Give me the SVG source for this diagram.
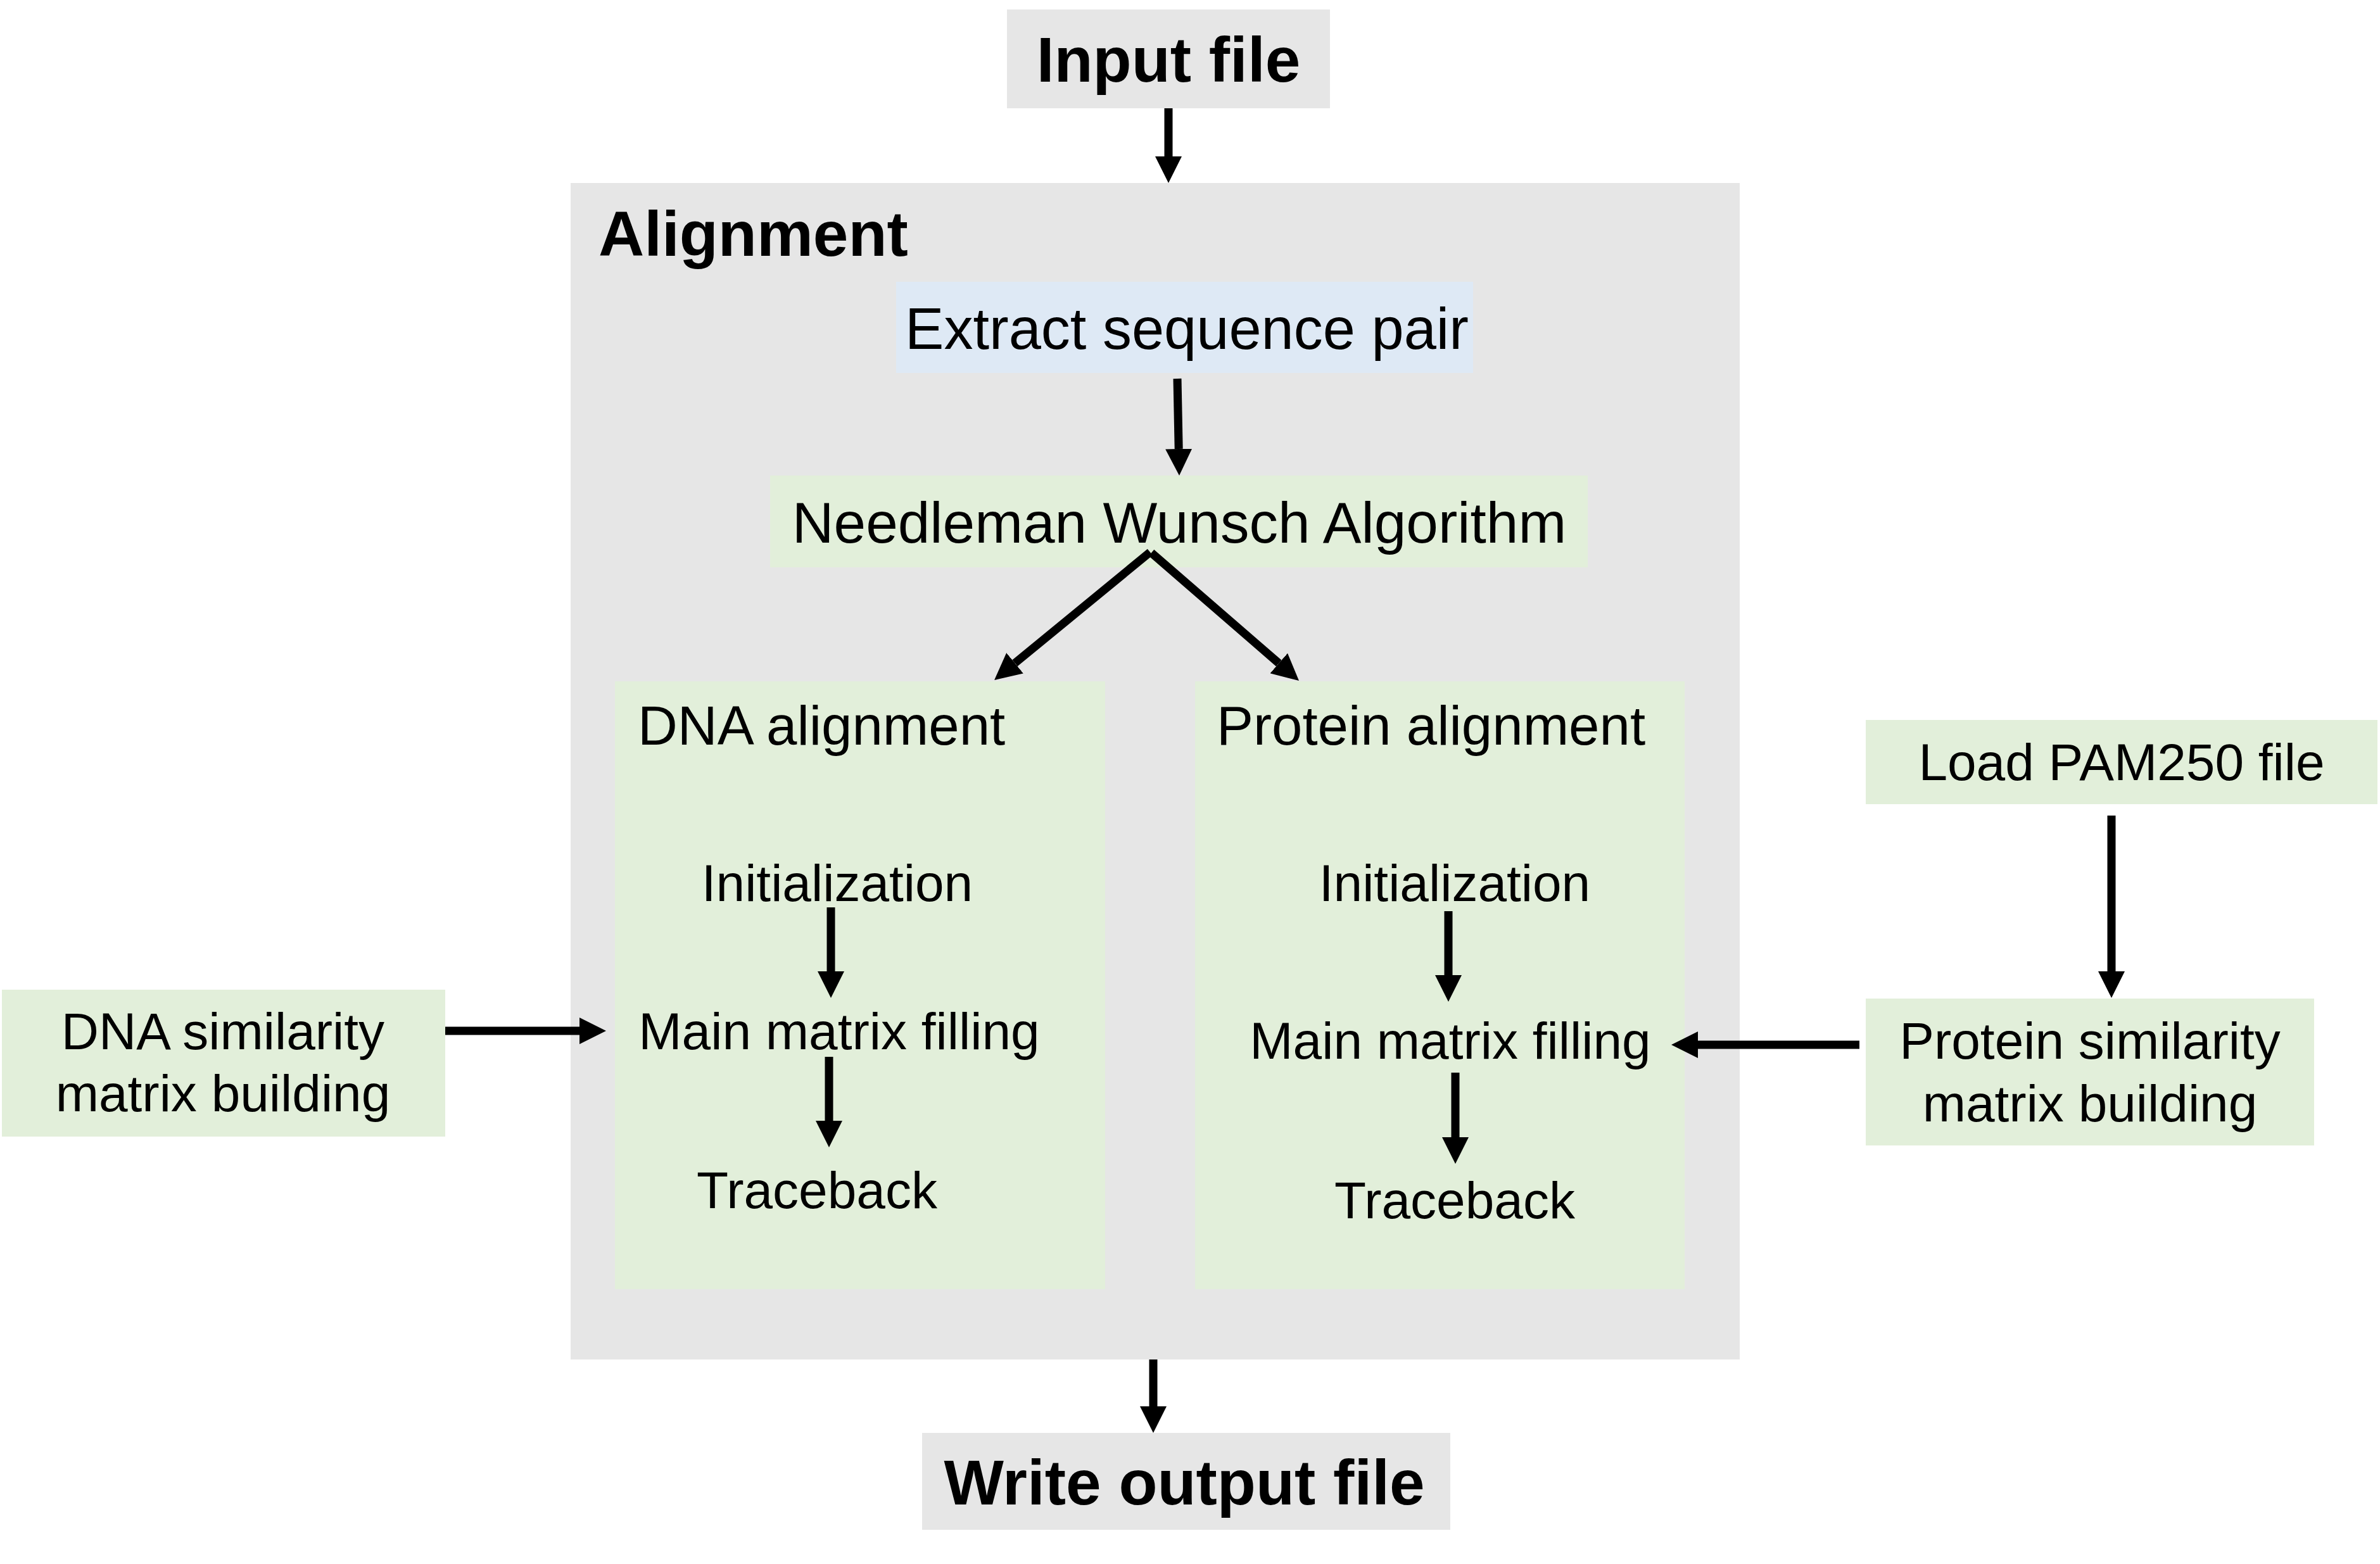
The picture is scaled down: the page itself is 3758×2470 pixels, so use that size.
<svg xmlns="http://www.w3.org/2000/svg" width="3758" height="2470" viewBox="0 0 3758 2470">
<style>
.gray{fill:#e6e6e6}
.blue{fill:#dee9f5}
.green{fill:#e2efda}
text{font-family:"Liberation Sans",Arial,sans-serif;fill:#000}
.b{font-weight:bold;font-size:100px}
.h{font-size:87px}
.t{font-size:82px}
.m{font-size:92px}
.c{text-anchor:middle}
.arr{stroke:#000;stroke-width:13;fill:none;marker-end:url(#ah)}
</style>
<defs>
<marker id="ah" markerUnits="userSpaceOnUse" markerWidth="42" markerHeight="42" refX="0" refY="21" orient="auto" viewBox="0 0 42 42">
<path d="M0,0 L42,21 L0,42 z" fill="#000"/>
</marker>
</defs>
<rect width="3758" height="2470" fill="#fff"/>
<g id="input-file"><rect class="gray" x="1590" y="15" width="510" height="156"/><text class="b c" x="1845" y="129">Input file</text></g>
<g id="alignment"><rect class="gray" x="901" y="289" width="1846" height="1858"/><text class="b" x="945" y="404">Alignment</text></g>
<g id="extract"><rect class="blue" x="1415" y="445" width="911" height="144"/><text class="m c" x="1874" y="551">Extract sequence pair</text></g>
<g id="needleman"><rect class="green" x="1216" y="751" width="1291" height="145"/><text class="m c" x="1862" y="857" style="font-size:91px">Needleman Wunsch Algorithm</text></g>
<g id="dna-alignment"><rect class="green" x="971" y="1076" width="774" height="960"/><text class="h" x="1007" y="1176">DNA alignment</text>
<text class="t c" x="1322" y="1423">Initialization</text>
<text class="t c" x="1325" y="1657">Main matrix filling</text>
<text class="t c" x="1290" y="1908">Traceback</text></g>
<g id="protein-alignment"><rect class="green" x="1887" y="1076" width="773" height="960"/><text class="h" x="1921" y="1176">Protein alignment</text>
<text class="t c" x="2297" y="1423">Initialization</text>
<text class="t c" x="2290" y="1672">Main matrix filling</text>
<text class="t c" x="2297" y="1924">Traceback</text></g>
<g id="dna-similarity"><rect class="green" x="3" y="1563" width="700" height="232"/><text class="t c" x="352" y="1657">DNA similarity</text><text class="t c" x="352" y="1755">matrix building</text></g>
<g id="load-pam"><rect class="green" x="2946" y="1137" width="808" height="133"/><text class="t c" x="3350" y="1232">Load PAM250 file</text></g>
<g id="protein-similarity"><rect class="green" x="2946" y="1577" width="708" height="232"/><text class="t c" x="3300" y="1672">Protein similarity</text><text class="t c" x="3300" y="1771">matrix building</text></g>
<g id="write-output"><rect class="gray" x="1456" y="2263" width="834" height="153"/><text class="b c" x="1870" y="2376">Write output file</text></g>
<g id="connectors">
<line class="arr" x1="1845" y1="171" x2="1845" y2="247"/>
<line class="arr" x1="1859" y1="598" x2="1861.2" y2="709"/>
<line class="arr" x1="1816" y1="872" x2="1602.5" y2="1047.3"/>
<line class="arr" x1="1818" y1="873" x2="2019.3" y2="1047.5"/>
<line class="arr" x1="1312" y1="1433" x2="1312" y2="1534"/>
<line class="arr" x1="1309" y1="1669" x2="1309" y2="1770"/>
<line class="arr" x1="703" y1="1628" x2="915" y2="1628"/>
<line class="arr" x1="2287" y1="1439" x2="2287" y2="1540"/>
<line class="arr" x1="2298" y1="1694" x2="2298" y2="1796"/>
<line class="arr" x1="3334" y1="1288" x2="3334" y2="1534"/>
<line class="arr" x1="2936" y1="1650" x2="2681" y2="1650"/>
<line class="arr" x1="1821" y1="2147" x2="1821" y2="2221"/>
</g>
</svg>
